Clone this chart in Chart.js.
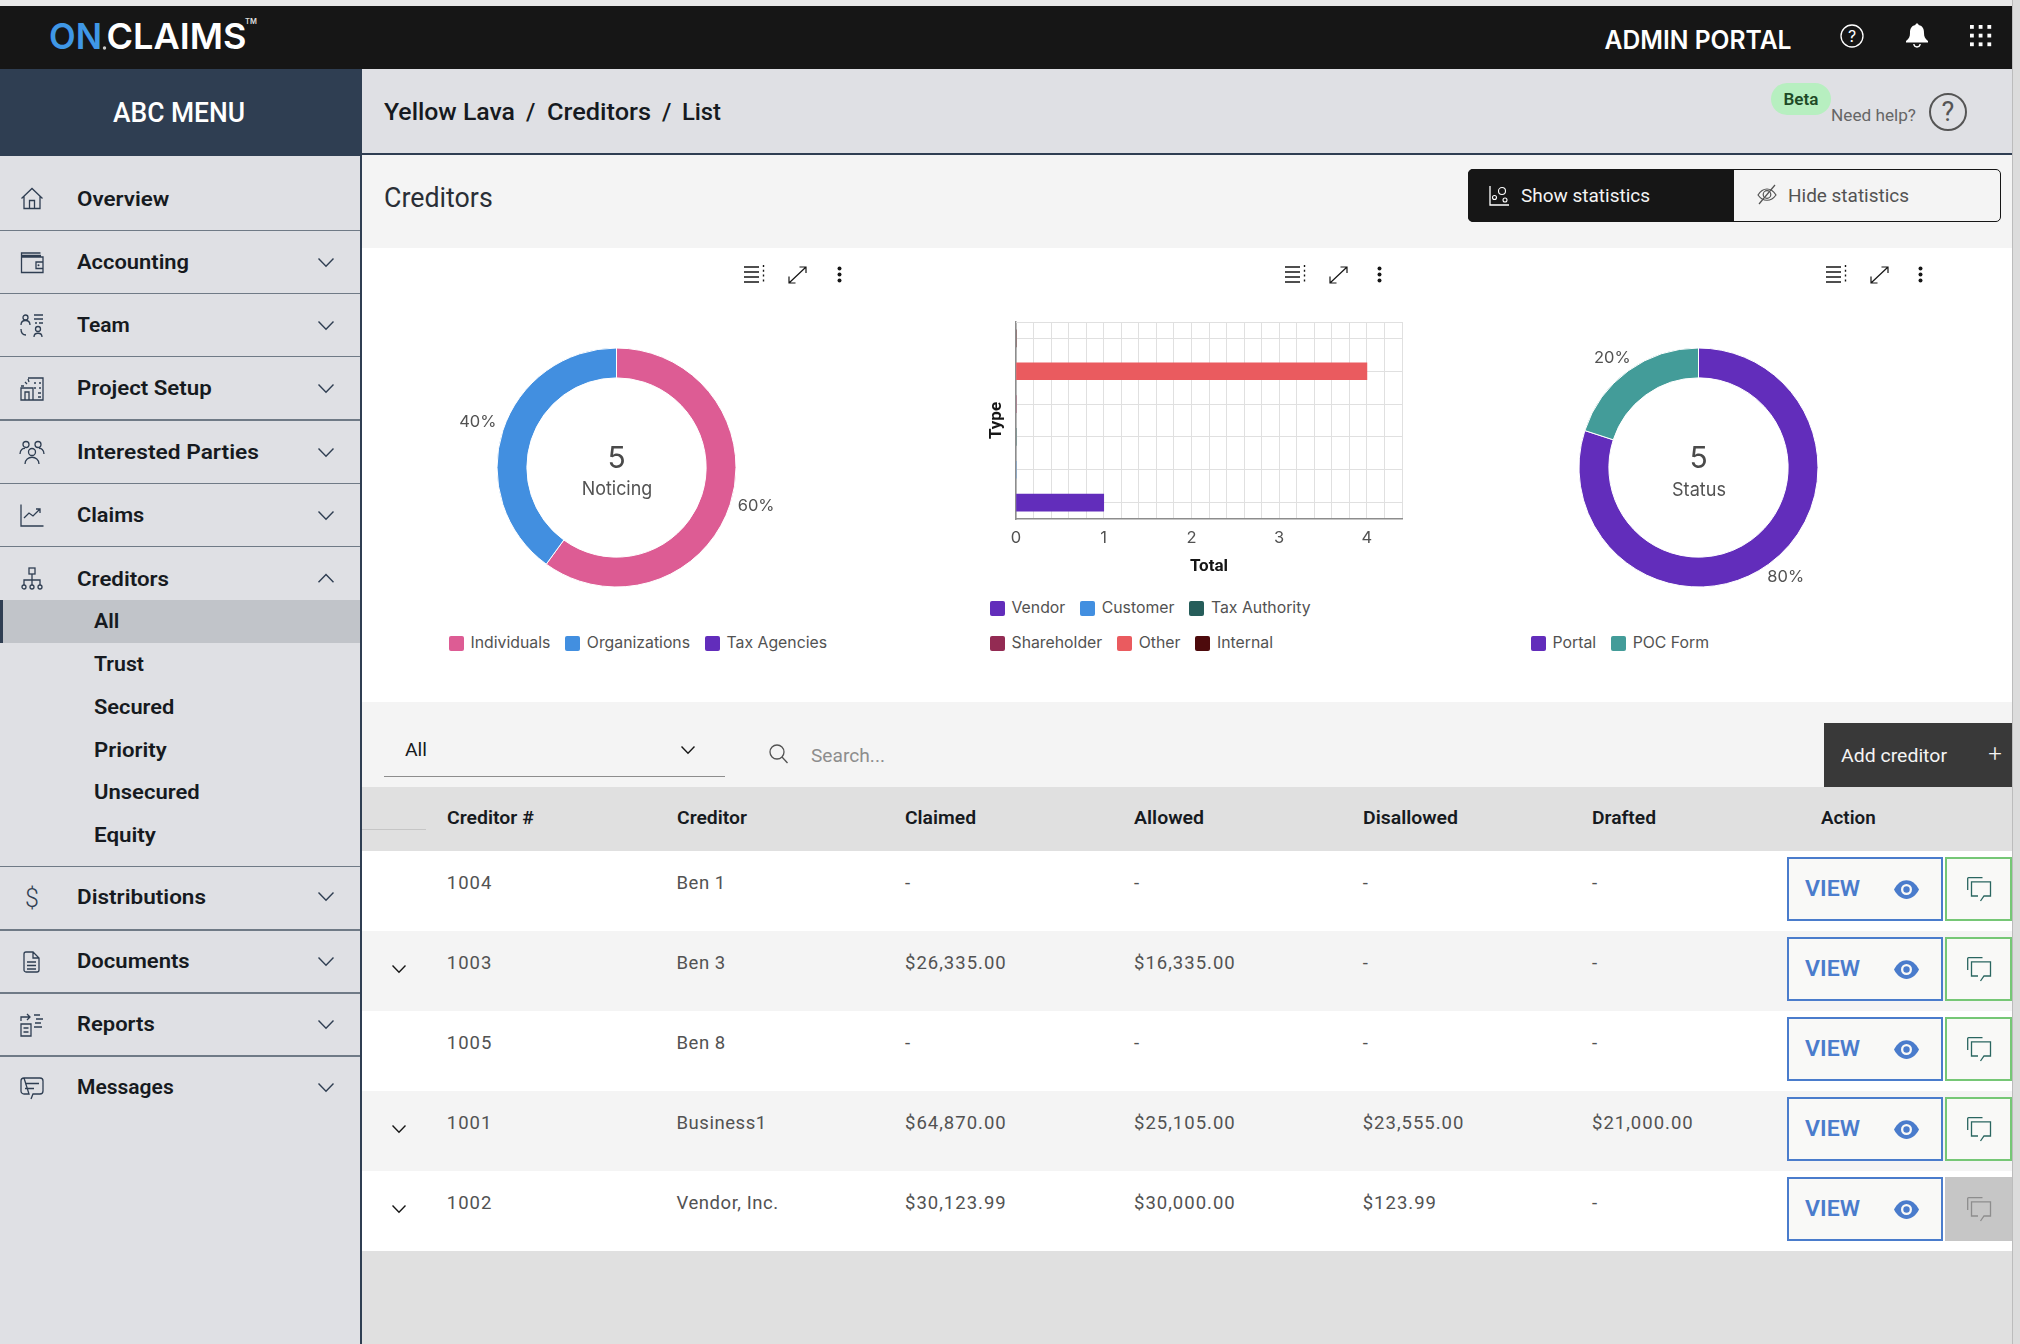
<!DOCTYPE html>
<html><head><meta charset="utf-8">
<script src="https://cdn.jsdelivr.net/npm/chart.js@4"></script>
<style>
html,body{margin:0;padding:0;background:#fff;overflow:hidden}
#app{position:relative;width:2020px;height:1344px;overflow:hidden;font-family:Roboto,sans-serif}
.r{position:absolute}
.t{position:absolute;white-space:nowrap;line-height:1;transform-origin:0 50%}
svg{position:absolute;overflow:visible}
canvas{position:absolute}
.lg{position:absolute;display:flex;align-items:center;font:15.8px Inter,sans-serif;color:#525252;white-space:nowrap;height:16px;line-height:16px}
.lg i{display:block;width:15px;height:15px;border-radius:2px;margin-right:6.5px}
.lg span{margin-right:15px}
</style></head><body><div id="app"></div>
<script>
// ---------- chart data ----------
const partyLabels=['Individuals','Organizations','Tax Agencies'];
const partyCounts=[3,2,0];
const partyColors=['#dd5c94','#428fe0','#622dbb'];
const typeLabels=['Vendor','Customer','Tax Authority','Shareholder','Other','Internal'];
const typeCounts=[1,0,0,0,4,0];
const typeColors=['#622dbb','#428fe0','#265d5a','#932b53','#ea5b5f','#4d0a0c'];
const statusLabels=['Portal','POC Form'];
const statusCounts=[4,1];
const statusColors=['#622dbb','#439c99'];
// ---------- table data ----------
const tableHeads=['Creditor #','Creditor','Claimed','Allowed','Disallowed','Drafted','Action'];
const rowIds=['1004','1003','1005','1001','1002'];
const rowNames=['Ben 1','Ben 3','Ben 8','Business1','Vendor, Inc.'];
const rowClaimed=['-','$26,335.00','-','$64,870.00','$30,123.99'];
const rowAllowed=['-','$16,335.00','-','$25,105.00','$30,000.00'];
const rowDisallowed=['-','-','-','$23,555.00','$123.99'];
const rowDrafted=['-','-','-','$21,000.00','-'];
const rowExpandable=[false,true,false,true,true];
const rowCommentOn=[true,true,true,true,false];
// ---------- sidebar ----------
const navMain=[['Overview',199.3,92.3],['Accounting',262.7,112],['Team',325.7,52.7],['Project Setup',388.7,134.7],['Interested Parties',452.7,182],['Claims',515.7,67.3],['Creditors',579,92],['Distributions',897,129],['Documents',961.2,112.7],['Reports',1024.2,77.7],['Messages',1087.5,96.7]];
const navSub=[['All',621,25.3],['Trust',664.7,50],['Secured',707.3,80.3],['Priority',750,72.7],['Unsecured',792.5,105.7],['Equity',835.5,62]];
const navRules=[230.5,293.5,356.7,420,483.3,546.6,866.5,929.8,992.8,1056];

const app=document.getElementById('app');
function R(x,y,w,h,c,extra){const d=document.createElement('div');d.className='r';d.style.cssText=`left:${x}px;top:${y}px;width:${w}px;height:${h}px;background:${c};${extra||''}`;app.appendChild(d);return d;}
function T(x,y,s,font,color,w,align,ls){
  const d=document.createElement('div');d.className='t';d.textContent=s;
  d.style.font=font;d.style.lineHeight='1';d.style.color=color;d.style.left=x+'px';d.style.top=(y-.5)+'px';
  if(ls)d.style.letterSpacing=ls+'px';
  app.appendChild(d);
  const m=d.getBoundingClientRect().width;
  let sx=1;if(w)sx=w/m;
  let tx=0;if(align==='c')tx=-(m*sx)/2;
  d.style.transform=`translate(${tx}px,-50%) scaleX(${sx})`;
  return d;
}
function S(x,y,w,h,vb,inner,extra){
  const n=document.createElementNS('http://www.w3.org/2000/svg','svg');
  n.setAttribute('viewBox',vb);n.setAttribute('width',w);n.setAttribute('height',h);
  n.style.left=x+'px';n.style.top=y+'px';n.innerHTML=inner;if(extra)n.style.cssText+=extra;app.appendChild(n);return n;
}
function chev(cx,cy,c,up,hw){hw=hw||7.5;const h=hw*.55;
  S(cx-hw,cy-h,hw*2,h*2,`0 0 ${hw*2} ${h*2}`,`<path d="${up?`M0.5 ${h*2-.5}L${hw} .5L${hw*2-.5} ${h*2-.5}`:`M0.5 .5L${hw} ${h*2-.5}L${hw*2-.5} .5`}" fill="none" stroke="${c}" stroke-width="1.4"/>`);}

// ---------- page frame ----------
R(0,0,2020,1344,'#e0e0e0');
R(0,0,2020,6,'#e8e8e8');
R(0,6,2012,63,'#161616');
R(2012,0,8,1344,'#dcdcdc','border-left:1px solid #bcbcbc;box-sizing:border-box');
// logo
S(0,0,300,69,'0 0 300 69',`<text x="49" y="49" font-family="Inter" font-weight="600" font-size="36" fill="#3f97e6" textLength="53" lengthAdjust="spacingAndGlyphs">ON</text><circle cx="104.5" cy="48" r="1.7" fill="#ccc"/><text x="106.5" y="49" font-family="Inter" font-weight="600" font-size="36" fill="#fff" textLength="140" lengthAdjust="spacingAndGlyphs">CLAIMS</text><text x="245" y="24" font-family="Inter" font-weight="600" font-size="7.5" fill="#ddd">TM</text>`);
// admin portal
S(1600,6,200,63,'0 0 200 63',`<text x="4.5" y="42.5" font-family="Inter" font-weight="600" font-size="25" fill="#fff" textLength="187" lengthAdjust="spacingAndGlyphs">ADMIN PORTAL</text>`);
// help, bell, apps
S(1840,24,24,24,'0 0 24 24',`<circle cx="12" cy="12" r="11" fill="none" stroke="#fff" stroke-width="1.3"/><text x="12" y="17.5" text-anchor="middle" font-family="Inter" font-size="16" fill="#fff">?</text>`);
S(1905,22,24,26,'0 0 24 26',`<path d="M12 1.5c1 0 1.6.7 1.6 1.6C18 4 19 7.5 19 11c0 3.5 1 5.5 4 8v1.5H1V19c3-2.5 4-4.5 4-8 0-3.5 1-7 5.4-7.9C10.4 2.2 11 1.5 12 1.5z" fill="#fff"/><path d="M8.8 22c.3 2 1.7 3 3.2 3s2.9-1 3.2-3" fill="none" stroke="#fff" stroke-width="1.4"/>`);
{let g='';for(let i=0;i<3;i++)for(let j=0;j<3;j++)g+=`<rect x="${i*8.7}" y="${j*8.7}" width="3.8" height="3.8" fill="#fff"/>`;S(1970,25,22,22,'0 0 22 22',g);}

// sidebar
R(0,69,360,1275,'#dfe0e4');
R(360,69,2,1275,'#2f3e52');
R(0,69,362,87,'#2f3e52');
T(179,113.5,'ABC MENU','500 27px Roboto','#fff',132,'c');
R(0,600,360,43,'#c1c4c9');R(0,600,3,43,'#2f3e52');
navRules.forEach(y=>R(0,y-.75,360,1.5,'#6f7a86'));
navMain.forEach(([s,y,w])=>T(77,y,s,'600 20.5px Roboto','#161a20',w));
navSub.forEach(([s,y,w])=>T(94,y,s,'600 20.5px Roboto','#161a20',w));
navMain.forEach(([s,y])=>{if(s!=='Overview')chev(325.5,y-.2,'#2f3e52',s==='Creditors',8);});
// sidebar icons (line glyphs)
const ic='fill="none" stroke="#2f3e52" stroke-width="1.3"';
S(20,187,24,24,'0 0 24 24',`<path d="M1.5 11.5L12 1.5l10.5 10M4 9.5V21.5h16V9.5M9.5 21.5v-8h5v8" ${ic}/>`);
S(20,252,24,22,'0 0 24 22',`<path d="M21 3.5H1.5v-2.5H20.5M1.5 1v19.5h21.5V5H1.5M16 10h7v6.5h-7z" ${ic}/><circle cx="18.5" cy="13.2" r="1" fill="#2f3e52"/>`);
S(20,314,24,24,'0 0 24 24',`<circle cx="5.5" cy="3.5" r="2.5" ${ic}/><path d="M1 11c0-6 9-6 9 0M14 1h9M14 5h9M15 9h2M19 9h4M1 15c0 4 2 6 5 6" ${ic}/><circle cx="18" cy="15" r="2.5" ${ic}/><path d="M14 23c0-5 8-5 8 0" ${ic}/>`);
S(20,377,24,24,'0 0 24 24',`<path d="M8 1h15v22H1V11h12v12M5 23v-8h4v8M5 5l2 2M1 9h3M9 5l-1-3M14 6h2M19 6h2M14 11h2M19 11h2M18 16h3M18 20h3" ${ic}/>`);
S(19,441,26,24,'0 0 26 24',`<circle cx="7" cy="3.5" r="3" ${ic}/><circle cx="19" cy="3.5" r="3" ${ic}/><circle cx="13" cy="11" r="3.5" ${ic}/><path d="M1 13c0-4 3-6 5-5.5M25 13c0-4-3-6-5-5.5M6 23c0-9 14-9 14 0" ${ic}/>`);
S(20,504,24,23,'0 0 24 23',`<path d="M1 .5V22h22.5M4 14l5-5 4 3 7-7m-4 0h4v4" ${ic}/>`);
S(21,567,22,23,'0 0 22 23',`<rect x="8" y="1" width="6" height="6" ${ic}/><path d="M11 7v11M3 18v-5h16v5" ${ic}/><circle cx="3" cy="20" r="2" ${ic}/><circle cx="11" cy="20" r="2" ${ic}/><circle cx="19" cy="20" r="2" ${ic}/>`);
T(32,898,'$','300 25px Roboto','#2f3e52',0,'c');
S(23,951,17,22,'0 0 17 22',`<path d="M1 3a2 2 0 012-2h7l6 6v12a2 2 0 01-2 2H3a2 2 0 01-2-2zM10 1v6h6M4 11h9M4 14.5h9M4 18h9" ${ic}/>`);
S(20,1013,24,24,'0 0 24 24',`<path d="M1 8V4h9M7 1l3 3-3 3M1 11h10v12H1zM3.5 15h5M3.5 19h5M14 2h6M16 6h7M15 10h6M14 14h8" ${ic}/>`);
S(20,1077,24,23,'0 0 24 23',`<path d="M4 1h16a3 3 0 013 3v10a3 3 0 01-3 3h-7l-2 5M9 17H4a3 3 0 01-3-3V4a3 3 0 013-3zM5 6.5h14M5 11.5h9" ${ic}/>`);

// breadcrumb
R(362,69,1650,84,'#dfe0e4');
R(362,153,1650,2,'#2f3e52');
T(384,112.5,'Yellow Lava','500 24px Roboto','#161a20',131);
T(526,112.5,'/','500 24px Roboto','#161a20');
T(547,112.5,'Creditors','500 24px Roboto','#161a20',104);
T(662,112.5,'/','500 24px Roboto','#161a20');
T(682,112.5,'List','500 24px Roboto','#161a20',39);
R(1771,83,60,32,'#b7efc0','border-radius:16px');
T(1801,100,'Beta','600 16.5px Roboto','#1e4a26',35,'c');
T(1831,115.5,'Need help?','400 17px Roboto','#666',85);
S(1928,92,40,40,'0 0 40 40',`<circle cx="20" cy="20" r="18" fill="none" stroke="#555" stroke-width="2"/><text x="20" y="29" text-anchor="middle" font-family="Roboto" font-size="27" fill="#555">?</text>`);

// title bar
R(362,155,1650,93,'#f4f4f4');
T(384,198,'Creditors','400 27px Roboto','#2a2f36',108.7);
R(1468,169,533,53,'#f4f4f4','box-sizing:border-box;border:1.5px solid #161616;border-radius:5px');
R(1468,169,266,53,'#161616','border-radius:5px 0 0 5px');
S(1489,186,22,20,'0 0 22 20',`<path d="M1 0v19h19" fill="none" stroke="#fff" stroke-width="1.3"/><circle cx="5.5" cy="11.5" r="2" fill="none" stroke="#fff" stroke-width="1.1"/><circle cx="13" cy="5" r="3.5" fill="none" stroke="#fff" stroke-width="1.1"/><circle cx="16" cy="14" r="2" fill="none" stroke="#fff" stroke-width="1.1"/>`);
T(1521,195.5,'Show statistics','400 19px Roboto','#f4f4f4',129);
S(1757,184,20,21,'0 0 20 21',`<path d="M1 11c5-8 13-8 18 0-5 7-13 7-18 0z" fill="none" stroke="#525252" stroke-width="1.2"/><circle cx="10" cy="10.5" r="3.8" fill="none" stroke="#525252" stroke-width="1.2"/><path d="M2 20L18 1" stroke="#525252" stroke-width="1.2"/>`);
T(1788,195.5,'Hide statistics','400 19px Roboto','#525252',121);

// charts area
R(362,248,1650,454,'#fff');
function toolbar(dx){
  S(744+dx,265,21,19,'0 0 21 19',`<path d="M0 2h15M0 7h15M0 12h15M0 17h15" stroke="#161616" stroke-width="1.4"/><path d="M19.5 0v19" stroke="#161616" stroke-width="1.4" stroke-dasharray="2 2.8"/>`);
  S(788+dx,265.5,19,18,'0 0 19 18',`<path d="M1 17L18 1M11.5 1H18V7M1 10.5V17H7.5" fill="none" stroke="#161616" stroke-width="1.2"/>`);
  S(836.5+dx,266,5,17,'0 0 5 17',`<circle cx="2.5" cy="2.5" r="2" fill="#161616"/><circle cx="2.5" cy="8.5" r="2" fill="#161616"/><circle cx="2.5" cy="14.5" r="2" fill="#161616"/>`);
}
toolbar(0);toolbar(540.5);toolbar(1081.5);

// percent labels plugin
const pctPlugin={id:'pct',afterDraw(ch,_,o){
  const ctx=ch.ctx,arcs=ch.getDatasetMeta(0).data,vals=ch.data.datasets[0].data,tot=vals.reduce((a,b)=>a+b,0);
  ctx.save();ctx.font='16.5px Inter';ctx.fillStyle='#525252';ctx.textAlign='center';ctx.textBaseline='middle';
  arcs.forEach((a,i)=>{if(!vals[i])return;
    const m=(a.startAngle+a.endAngle)/2,n=o.nudge[i];
    ctx.fillText(Math.round(vals[i]/tot*100)+'%',a.x+Math.cos(m)*a.outerRadius+n[0],a.y+Math.sin(m)*a.outerRadius+n[1]);});
  ctx.restore();}};
function canvasAt(x,y,w,h){const c=document.createElement('canvas');c.width=w;c.height=h;c.style.cssText=`left:${x}px;top:${y}px;width:${w}px;height:${h}px`;app.appendChild(c);return c;}
function donut(left,labels,values,colors,nudge){
  return new Chart(canvasAt(left,317,441,301),{type:'doughnut',plugins:[pctPlugin],
    data:{labels,datasets:[{data:values,backgroundColor:colors,borderColor:'#fff',borderWidth:1,hoverOffset:0}]},
    options:{responsive:false,animation:false,devicePixelRatio:1,cutout:'75%',layout:{padding:{left:100.5,right:100.5,top:30.5,bottom:30.5}},
      plugins:{legend:{display:false},tooltip:{enabled:false},pct:{nudge}}}});
}
donut(396,partyLabels,partyCounts,partyColors,[[26,2],[-25,-9],[0,0]]);
donut(1478,statusLabels,statusCounts,statusColors,[[17,13],[-16,-12.5]]);
const sum=a=>a.reduce((p,v)=>p+v,0);
T(616.5,457.5,String(sum(partyCounts)),'400 30px Inter','#4a4a4a',0,'c');
T(616.5,488,'Noticing','400 18.5px Inter','#525252',70.5,'c');
T(1698.5,457.5,String(sum(statusCounts)),'400 30px Inter','#4a4a4a',0,'c');
T(1698.5,489,'Status','400 18.5px Inter','#525252',54,'c');

function legend(x,y,labels,colors){
  const d=document.createElement('div');d.className='lg';d.style.left=x+'px';d.style.top=(y-8)+'px';
  labels.forEach((l,i)=>{const b=document.createElement('i');b.style.background=colors[i];const s=document.createElement('span');s.textContent=l;d.append(b,s);});
  app.appendChild(d);
}
legend(449,643,partyLabels,partyColors);
legend(990,608,typeLabels.slice(0,3),typeColors.slice(0,3));
legend(990,643,typeLabels.slice(3),typeColors.slice(3));
legend(1531,643,statusLabels,statusColors);

// bar chart
const frameTop={id:'frameTop',beforeDatasetsDraw(ch){const {ctx,chartArea:a}=ch;ctx.save();ctx.strokeStyle='#e0e0e0';ctx.lineWidth=1;ctx.beginPath();ctx.moveTo(a.left,a.top+.5);ctx.lineTo(a.right,a.top+.5);ctx.stroke();ctx.restore();}};
new Chart(canvasAt(980,310,440,267),{type:'bar',plugins:[frameTop],
  data:{labels:typeLabels,datasets:[{data:typeCounts,backgroundColor:typeColors,barThickness:17}]},
  options:{indexAxis:'y',responsive:false,animation:false,devicePixelRatio:1,layout:{padding:{top:12,right:18,left:0,bottom:0}},
    plugins:{legend:{display:false},tooltip:{enabled:false}},
    scales:{
      x:{min:0,max:4.4,afterFit(s){s.height=58;},
        ticks:{stepSize:.2,autoSkip:false,maxRotation:0,padding:9,color:'#525252',font:{family:'Inter',size:16.5},
          callback:v=>Math.abs(v-Math.round(v))<1e-6?String(Math.round(v)):''},
        grid:{color:'#e0e0e0',drawTicks:false},border:{color:'#8d8d8d',width:1.5},
        title:{display:true,text:'Total',color:'#161616',font:{family:'Roboto',size:17,weight:'700'},padding:{top:0,bottom:0}}},
      y:{reverse:true,afterFit(s){s.width=36;},
        ticks:{display:false},grid:{color:'#e0e0e0',offset:false,drawTicks:false},border:{color:'#8d8d8d',width:1.5},
        title:{display:true,text:'Type',color:'#161616',font:{family:'Roboto',size:17,weight:'700'},padding:{top:7,bottom:0}}}}}});

// toolbar row
R(362,702,1650,85,'#f4f4f4');
T(405,750.5,'All','400 18px Roboto','#161a20',22);
R(384,775.5,341,1.5,'#8d8d8d');
chev(687.5,749.5,'#161616',false,7);
S(769,744,19,20,'0 0 19 20',`<circle cx="8" cy="8" r="7" fill="none" stroke="#525252" stroke-width="1.3"/><path d="M13 13l5.5 6" stroke="#525252" stroke-width="1.3"/>`);
T(811,755,'Search...','400 19px Roboto','#8d8d8d',74);
R(1824,723,188,64,'#393939');
T(1841,755,'Add creditor','400 19px Roboto','#f4f4f4',106);
T(1995,754.5,'+','300 24px Roboto','#f4f4f4',0,'c');

// table
R(362,787,1650,64,'#e0e0e0');
R(362,828.5,64,1,'#c6c6c6');
const colX=[446.8,676.5,905,1134,1362.7,1592,1820.7];
const headW=[86.8,70,71,70,95,64,54.7];
tableHeads.forEach((h,i)=>T(colX[i],818,h,'600 18px Roboto','#161a20',headW[i]));
const cols=[rowIds,rowNames,rowClaimed,rowAllowed,rowDisallowed,rowDrafted];
const colSpacing=[1,.55,1,1,1,1];
rowIds.forEach((_,r)=>{
  const top=851+r*80;
  R(362,top,1650,80,r%2?'#f4f4f4':'#fff');
  if(rowExpandable[r])chev(399,top+38,'#161616',false,7);
  cols.forEach((c,i)=>T(colX[i],top+32.5,c[r],'400 18.5px Roboto','#525252',0,'',colSpacing[i]));
  R(1787,top+6,156,64,'#f9f9f7','box-sizing:border-box;border:2px solid #4a7ccc');
  T(1805,top+38,'VIEW','600 22px Roboto','#4a7ccc',55);
  S(1893.5,top+28.5,25,19,'0 0 25 19',`<path d="M0 9.5C6-3 19-3 25 9.5 19 22 6 22 0 9.5z" fill="#4a7ccc"/><circle cx="12.5" cy="9.5" r="5.5" fill="#f9f9f7"/><circle cx="12.5" cy="9.5" r="3.2" fill="#4a7ccc"/>`);
  const on=rowCommentOn[r],sc=on?'#2a6660':'#8d8d8d';
  R(1945,top+6,67,64,on?'#f9f9f7':'#c6c6c6',on?'box-sizing:border-box;border:2px solid #76c776':'');
  S(1967,top+26,25,25,'0 0 25 25',`<path d="M15.5 .7H1.5a.8.8 0 00-.8.8V13" fill="none" stroke="${sc}" stroke-width="1.3"/><path d="M11 19H4.5V4.8H23.5V19H17L13.5 24" fill="none" stroke="${sc}" stroke-width="1.3"/>`);
});
</script></body></html>
